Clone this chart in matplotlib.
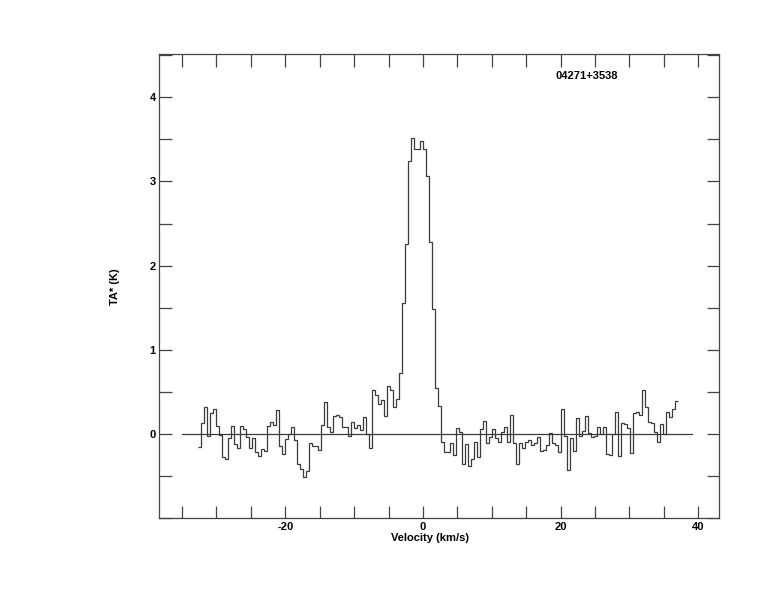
import numpy as np
import matplotlib.pyplot as plt
from matplotlib.ticker import MultipleLocator, FixedLocator

SOURCE = "04271+3538"

# channel grid (km/s)
V_START = -32.72
DV = 0.436

ta = [
    -0.15, 0.13, 0.32, -0.02, 0.25, 0.30, 0.10, -0.01, -0.27, -0.30,
    -0.05, 0.10, -0.12, -0.16, 0.10, 0.06, -0.03, -0.17, -0.05, -0.21,
    -0.26, -0.18, -0.20, 0.10, 0.14, 0.11, 0.29, -0.14, -0.24, -0.06,
    0.00, 0.08, -0.07, -0.36, -0.42, -0.51, -0.44, -0.10, -0.14, -0.14,
    -0.19, 0.11, 0.38, 0.09, 0.03, 0.21, 0.23, 0.20, 0.09, 0.09,
    -0.02, 0.14, 0.07, 0.11, 0.05, 0.20, 0.00, -0.17, 0.52, 0.47,
    0.36, 0.40, 0.21, 0.57, 0.52, 0.32, 0.42, 0.73, 1.56, 2.26,
    3.24, 3.52, 3.39, 3.38, 3.48, 3.39, 3.06, 2.28, 1.49, 0.55,
    0.33, -0.09, -0.21, -0.21, -0.10, -0.25, 0.07, 0.03, -0.36, -0.12,
    -0.38, -0.30, -0.09, -0.27, 0.06, 0.15, -0.10, -0.03, 0.06, -0.05,
    -0.09, 0.03, 0.09, -0.09, 0.23, -0.10, -0.36, -0.10, -0.17, -0.09,
    -0.07, -0.13, -0.11, -0.04, -0.20, -0.19, -0.13, 0.01, -0.11, -0.13,
    -0.21, 0.30, -0.02, -0.43, -0.05, -0.20, 0.19, -0.02, 0.04, 0.22,
    0.01, -0.04, -0.02, 0.08, 0.00, 0.08, -0.24, -0.25, 0.00, 0.26,
    -0.26, 0.13, 0.12, 0.07, -0.23, 0.25, 0.26, 0.23, 0.52, 0.32,
    0.14, 0.13, 0.03, -0.09, 0.12, 0.00, 0.26, 0.20, 0.30, 0.39,
]

baseline_range = [-35.0, 39.1]
yticks = [0, 1, 2, 3, 4]

edges = V_START + DV * np.arange(len(ta) + 1)

plt.rcParams["font.family"] = ["Liberation Sans", "DejaVu Sans"]
plt.rcParams["font.weight"] = "bold"
plt.rcParams["axes.unicode_minus"] = False

fig = plt.figure(figsize=(7.74, 6.12), dpi=100)
ax = fig.add_axes([0.2058, 0.1531, 0.7235, 0.7582])

ax.stairs(ta, edges, baseline=None, color="#3a3a3a", lw=0.9)
ax.plot(baseline_range, [0, 0], color="#3a3a3a", lw=0.9)

ax.set_xlim(-38.3, 43.05)
ax.set_ylim(-1.0, 4.51)

ax.xaxis.set_major_locator(MultipleLocator(20))
ax.xaxis.set_minor_locator(MultipleLocator(5))
ax.yaxis.set_major_locator(FixedLocator(yticks))
ax.yaxis.set_minor_locator(MultipleLocator(0.5))
ax.tick_params(which="both", direction="in", top=True, right=True,
               length=9, width=0.9, color="#444444", labelsize=8, pad=2.5)
for s in ax.spines.values():
    s.set_color("#444444")
    s.set_linewidth(0.9)

ax.set_xlabel("Velocity (km/s)", fontsize=8, fontweight="bold")
ax.xaxis.set_label_coords(0.483, -0.032)
ax.set_ylabel("TA* (K)", fontsize=8, fontweight="bold")
ax.yaxis.set_label_coords(-0.0705, 0.5)
ax.text(19.3, 4.25, SOURCE, fontsize=8, fontweight="bold", va="center")

fig.savefig("out.png", dpi=100)
